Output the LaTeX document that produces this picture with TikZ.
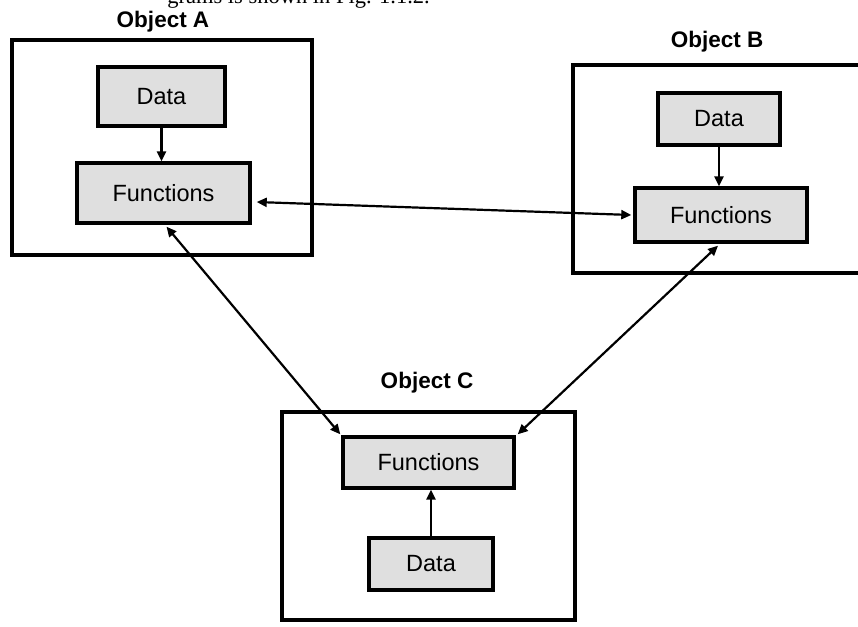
\documentclass[tikz,border=0pt]{standalone}
\usepackage{fontspec}
\setmainfont{Liberation Sans}
\newfontfamily\capserif{Liberation Serif}
\usetikzlibrary{arrows.meta}
\begin{document}
\begin{tikzpicture}[x=1pt,y=-1pt,
  every node/.style={inner sep=0pt},
  objbox/.style={draw, line width=3.2pt, rectangle},
  part/.style={draw, line width=3.4pt, fill=gray!25, font=\fontsize{23.5}{26}\selectfont},
  title/.style={font=\fontsize{22.5}{25}\selectfont\bfseries},
  link/.style={line width=2.3pt, -{Triangle[length=10pt,width=9pt]}},
  dlink/.style={line width=2.2pt, {Triangle[length=10pt,width=9pt]}-{Triangle[length=10pt,width=9pt]}}]
\clip (0,0) rectangle (858,626);
\fill[white] (0,0) rectangle (858,626);

% caption remnant at the top edge
\node[anchor=base east, font=\fontsize{22.5}{25}\selectfont\capserif] (cap) at (430,4) {grams is shown in Fig. 1.1.2.};

% Object A
\node[objbox, minimum width=300pt, minimum height=215pt] (objA) at (162,147.5) {};
\node[title] (labA) at (163,22) {Object A};
\node[part, minimum width=127pt, minimum height=59pt] (dataA) at (161.5,96.5) {Data};
\node[part, minimum width=173pt, minimum height=60pt] (funA) at (163.5,193) {Functions};

% Object B
\node[objbox, minimum width=297pt, minimum height=208pt] (objB) at (721.5,169) {};
\node[title] (labB) at (717,42) {Object B};
\node[part, minimum width=122pt, minimum height=52pt] (dataB) at (719,119) {Data};
\node[part, minimum width=172pt, minimum height=54pt] (funB) at (721,215) {Functions};

% Object C
\node[objbox, minimum width=293pt, minimum height=208pt] (objC) at (428.5,516) {};
\node[title] (labC) at (427,383) {Object C};
\node[part, minimum width=171pt, minimum height=51pt] (funC) at (428.5,462.5) {Functions};
\node[part, minimum width=124pt, minimum height=52pt] (dataC) at (431,564) {Data};

% connectors
\draw[link] (dataA.south) -- (dataA.south |- funA.north);
\draw[link] (dataB.south) -- (dataB.south |- funB.north);
\draw[link] (dataC.north) -- (dataC.north |- funC.south);
\draw[dlink] ([xshift=5pt,yshift=-9pt]funA.east) -- ([xshift=-2pt]funB.west);
\draw[dlink] ([xshift=3pt,yshift=-2pt]funA.south) -- ([xshift=-1pt,yshift=1pt]funC.north west);
\draw[dlink] ([xshift=-3pt,yshift=-2pt]funB.south) -- ([xshift=2pt,yshift=1pt]funC.north east);
\end{tikzpicture}
\end{document}
